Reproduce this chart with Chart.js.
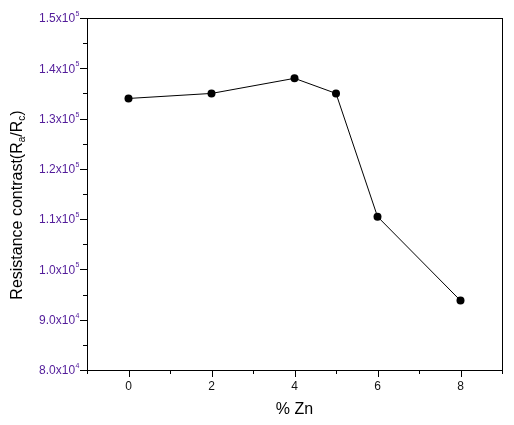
<!DOCTYPE html>
<html>
<head>
<meta charset="utf-8">
<script src="https://cdn.jsdelivr.net/npm/chart.js@4"></script>
<style>
  html, body { margin: 0; padding: 0; background: #fff; }
  #wrap { width: 514px; height: 425px; }
</style>
</head>
<body>
<div id="wrap"><canvas id="znChart" width="514" height="425"></canvas></div>
<script>
// data
const pctZn = [0, 2, 4, 5, 6, 8];
const resistanceContrast = [134000, 135000, 138000, 135000, 110500, 93800];

const xTickValues = [0, 2, 4, 6, 8];
const xTickLabels = ['0', '2', '4', '6', '8'];
const xMinorValues = [-1, 1, 3, 5, 7, 9];

const yTickValues = [80000, 90000, 100000, 110000, 120000, 130000, 140000, 150000];
const yTickMantissa = ['8.0', '9.0', '1.0', '1.1', '1.2', '1.3', '1.4', '1.5'];
const yTickExponent = ['4', '4', '5', '5', '5', '5', '5', '5'];
const yMinorValues = [85000, 95000, 105000, 115000, 125000, 135000, 145000];

const FONT = '"Liberation Sans", Arial, sans-serif';
const TICK_COLOR_Y = '#521c9a';

// frame, ticks, labels and titles drawn on top of the chart
const axesPlugin = {
  id: 'originAxes',
  afterDraw(chart) {
    const { ctx, chartArea: a, scales } = chart;
    const xs = scales.x, ys = scales.y;
    ctx.save();
    ctx.strokeStyle = '#000';
    ctx.lineWidth = 1;
    ctx.strokeRect(Math.round(a.left) + 0.5, Math.round(a.top) + 0.5,
      Math.round(a.right - a.left), Math.round(a.bottom - a.top));

    ctx.beginPath();
    // x ticks (outward)
    xTickValues.forEach(v => {
      const px = Math.round(xs.getPixelForValue(v)) + 0.5;
      ctx.moveTo(px, a.bottom); ctx.lineTo(px, a.bottom + 7);
    });
    xMinorValues.forEach(v => {
      const px = Math.round(xs.getPixelForValue(v)) + 0.5;
      ctx.moveTo(px, a.bottom); ctx.lineTo(px, a.bottom + 4);
    });
    // y ticks (outward)
    yTickValues.forEach(v => {
      const py = Math.round(ys.getPixelForValue(v)) + 0.5;
      ctx.moveTo(a.left, py); ctx.lineTo(a.left - 7, py);
    });
    yMinorValues.forEach(v => {
      const py = Math.round(ys.getPixelForValue(v)) + 0.5;
      ctx.moveTo(a.left, py); ctx.lineTo(a.left - 4, py);
    });
    ctx.stroke();

    // x tick labels
    ctx.fillStyle = '#111';
    ctx.font = '12px ' + FONT;
    ctx.textAlign = 'center';
    ctx.textBaseline = 'middle';
    xTickValues.forEach((v, i) => {
      ctx.fillText(xTickLabels[i], xs.getPixelForValue(v), a.bottom + 17);
    });

    // y tick labels, mantissa x 10 with superscript exponent
    ctx.fillStyle = TICK_COLOR_Y;
    ctx.textAlign = 'left';
    yTickValues.forEach((v, i) => {
      const py = ys.getPixelForValue(v);
      ctx.font = '12px ' + FONT;
      const main = yTickMantissa[i] + 'x10';
      const wMain = ctx.measureText(main).width;
      ctx.font = '7px ' + FONT;
      const wExp = ctx.measureText(yTickExponent[i]).width;
      const xStart = a.left - 8 - wMain - wExp;
      ctx.font = '12px ' + FONT;
      ctx.textBaseline = 'middle';
      ctx.fillText(main, xStart, py + 1);
      ctx.font = '7px ' + FONT;
      ctx.fillText(yTickExponent[i], xStart + wMain + 0.5, py - 4);
    });

    // x title
    ctx.fillStyle = '#000';
    ctx.font = '16px ' + FONT;
    ctx.textAlign = 'center';
    ctx.textBaseline = 'middle';
    ctx.fillText('% Zn', (a.left + a.right) / 2, 410);

    // y title, rotated, with subscripts
    const parts = [
      ['Resistance contrast(R', 16, 0],
      ['a', 10, 4],
      ['/R', 16, 0],
      ['c', 10, 4],
      [')', 16, 0]
    ];
    let total = 0;
    parts.forEach(p => { ctx.font = p[1] + 'px ' + FONT; total += ctx.measureText(p[0]).width; });
    ctx.translate(18, 205);
    ctx.rotate(-Math.PI / 2);
    ctx.textAlign = 'left';
    let cx = -total / 2;
    parts.forEach(p => {
      ctx.font = p[1] + 'px ' + FONT;
      ctx.fillText(p[0], cx, p[2]);
      cx += ctx.measureText(p[0]).width;
    });
    ctx.restore();
  }
};

new Chart(document.getElementById('znChart').getContext('2d'), {
  type: 'scatter',
  data: {
    datasets: [{
      data: pctZn.map((x, i) => ({ x: x, y: resistanceContrast[i] })),
      showLine: true,
      borderColor: '#000',
      borderWidth: 1,
      backgroundColor: '#000',
      pointRadius: 4,
      pointBorderWidth: 0,
      pointBackgroundColor: '#000'
    }]
  },
  options: {
    responsive: false,
    animation: false,
    layout: { padding: { left: 0, top: 18, right: 12, bottom: 0 } },
    plugins: { legend: { display: false }, tooltip: { enabled: false } },
    scales: {
      x: {
        type: 'linear', min: -1, max: 9,
        grid: { display: false }, border: { display: false },
        ticks: { display: false },
        afterFit: s => { s.height = 55; }
      },
      y: {
        type: 'linear', min: 80000, max: 150000,
        grid: { display: false }, border: { display: false },
        ticks: { display: false },
        afterFit: s => { s.width = 87; }
      }
    }
  },
  plugins: [axesPlugin]
});
</script>
</body>
</html>
